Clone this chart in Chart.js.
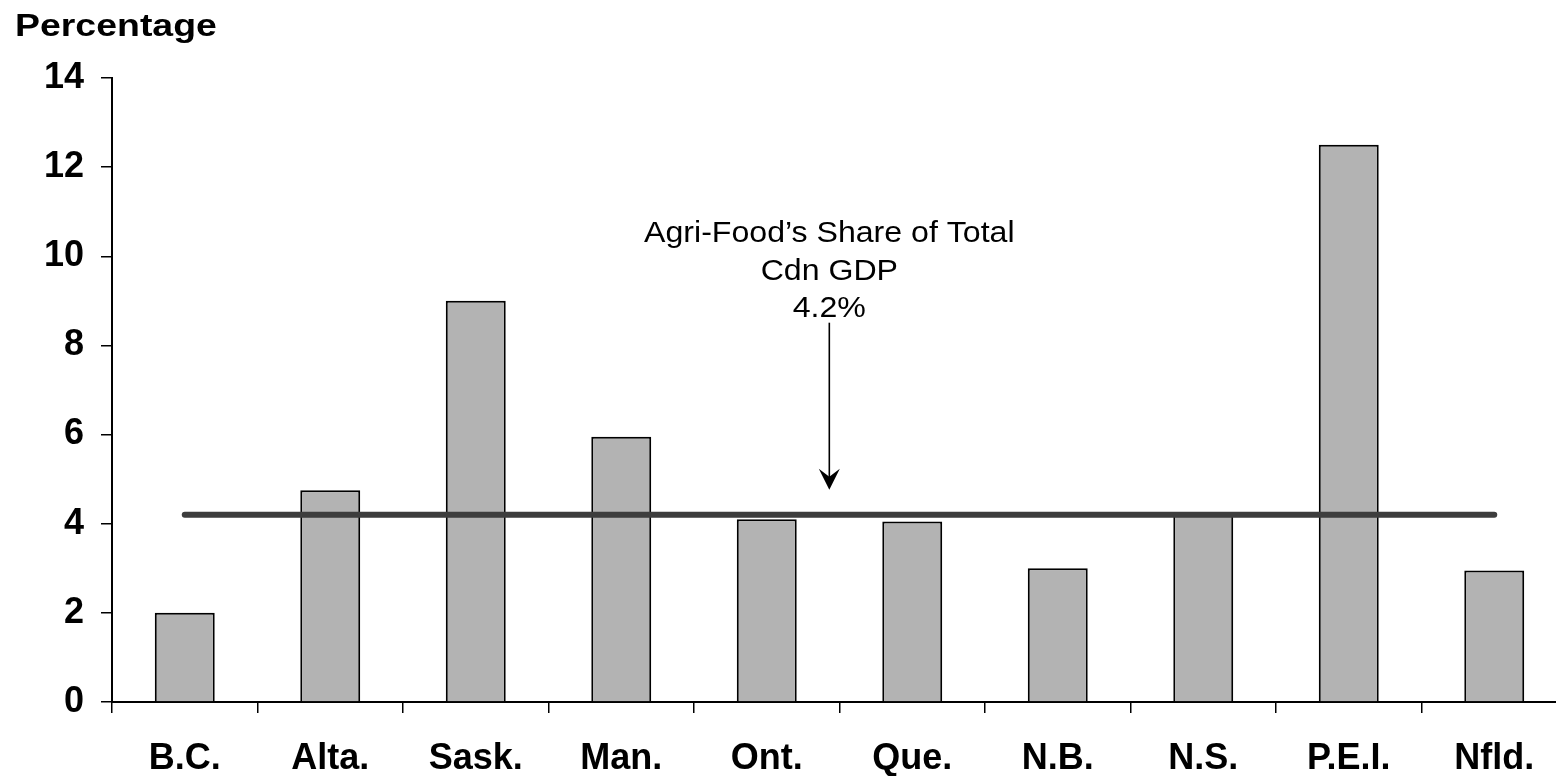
<!DOCTYPE html>
<html>
<head>
<meta charset="utf-8">
<script src="https://cdn.jsdelivr.net/npm/chart.js@4/dist/chart.umd.min.js"></script>
<style>
  html, body { margin: 0; padding: 0; background: #fff; overflow: hidden; }
  #wrap { position: relative; width: 1570px; height: 776px; }
</style>
</head>
<body>
<div id="wrap"><canvas id="c"></canvas></div>
<script>
const categories = ['B.C.', 'Alta.', 'Sask.', 'Man.', 'Ont.', 'Que.', 'N.B.', 'N.S.', 'P.E.I.', 'Nfld.'];
const shares = [2.0, 4.75, 9.0, 5.95, 4.1, 4.05, 3.0, 4.25, 12.5, 2.95];
const canadaShare = [4.2, 4.2, 4.2, 4.2, 4.2, 4.2, 4.2, 4.2, 4.2, 4.2];
const yTitle = 'Percentage';
const noteLines = ['Agri-Food\u2019s Share of Total', 'Cdn GDP', '4.2%'];

const FONT = '"Liberation Sans", Arial, Helvetica, sans-serif';

function wideText(ctx, text, x, y, sx, align) {
  ctx.save();
  ctx.translate(x, y);
  ctx.scale(sx, 1);
  ctx.textAlign = align;
  ctx.fillText(text, 0, 0);
  ctx.restore();
}

const overlay = {
  id: 'overlay',
  afterDraw(chart) {
    const ctx = chart.ctx;
    const x = chart.scales.x, y = chart.scales.y;
    ctx.save();
    ctx.fillStyle = '#000';
    ctx.textBaseline = 'alphabetic';
    // Title
    ctx.font = 'bold 32px ' + FONT;
    wideText(ctx, yTitle, 15, 36, 1.17, 'left');
    // Annotation text
    ctx.font = '30px ' + FONT;
    const ax = x.getPixelForValue(4.43);
    const baselines = [242, 280, 317];
    noteLines.forEach((t, i) => wideText(ctx, t, ax, baselines[i], 1.07, 'center'));
    // Arrow
    const yTop = y.getPixelForValue(8.51);
    const yTip = y.getPixelForValue(4.76);
    ctx.strokeStyle = '#000';
    ctx.lineWidth = 1.6;
    ctx.beginPath();
    ctx.moveTo(ax, yTop);
    ctx.lineTo(ax, yTip - 8);
    ctx.stroke();
    ctx.beginPath();
    ctx.moveTo(ax, yTip);
    ctx.lineTo(ax - 10.5, yTip - 21);
    ctx.lineTo(ax, yTip - 13);
    ctx.lineTo(ax + 10.5, yTip - 21);
    ctx.closePath();
    ctx.fill();
    ctx.restore();
  }
};

new Chart(document.getElementById('c'), {
  data: {
    labels: categories,
    datasets: [
      {
        type: 'line',
        data: canadaShare,
        borderColor: '#3d3d3d',
        borderWidth: 6,
        pointRadius: 0,
        borderCapStyle: 'round',
        order: 0
      },
      {
        type: 'bar',
        data: shares,
        backgroundColor: '#b3b3b3',
        borderColor: '#000',
        borderWidth: 2,
        barPercentage: 0.412,
        categoryPercentage: 1,
        order: 1
      }
    ]
  },
  options: {
    responsive: true,
    maintainAspectRatio: false,
    animation: false,
    events: [],
    layout: { padding: { top: 78, right: 3, bottom: 0, left: 0 } },
    plugins: { legend: { display: false }, tooltip: { enabled: false }, title: { display: false } },
    scales: {
      x: {
        offset: true,
        afterFit: (s) => { s.height = 74; },
        border: { display: true, color: '#000', width: 2 },
        grid: { offset: true, drawOnChartArea: false, drawTicks: true, tickLength: 11, color: '#000', lineWidth: 1.5 },
        ticks: { color: '#000', padding: 24, maxRotation: 0, font: { family: FONT, size: 36, weight: 'bold' } }
      },
      y: {
        min: 0,
        max: 14,
        afterFit: (s) => { s.width = 112; },
        border: { display: true, color: '#000', width: 2 },
        grid: { drawOnChartArea: false, drawTicks: true, tickLength: 11, color: '#000', lineWidth: 1.5 },
        ticks: { stepSize: 2, color: '#000', padding: 17, font: { family: FONT, size: 36, weight: 'bold' } }
      }
    }
  },
  plugins: [overlay]
});
</script>
</body>
</html>
